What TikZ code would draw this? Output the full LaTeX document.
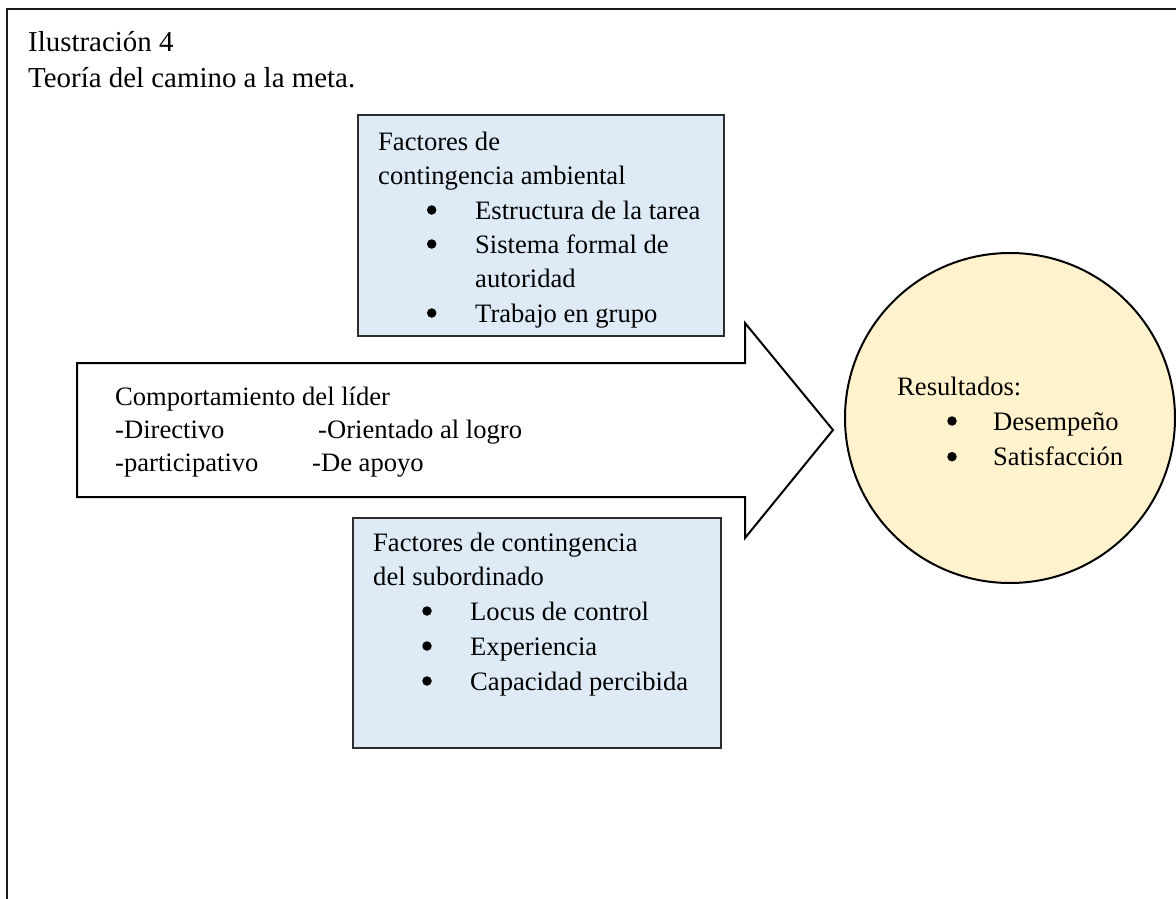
\documentclass[tikz,border=0pt]{standalone}
\usepackage{fontspec}
\setmainfont{Liberation Serif}
\definecolor{boxblue}{RGB}{222,235,247}
\definecolor{resyellow}{RGB}{255,242,204}
\definecolor{boxline}{RGB}{45,45,45}
\begin{document}
\begin{tikzpicture}[x=1pt,y=-1pt,
  txt/.style={anchor=base west,inner sep=0pt,font=\fontsize{26.6}{32}\selectfont},
  ttl/.style={anchor=base west,inner sep=0pt,font=\fontsize{28.9}{35}\selectfont},
  dot/.style={circle,fill=black,inner sep=0pt,minimum size=9.5pt},
  factorbox/.style={draw=boxline,line width=1.1pt,fill=boxblue,rectangle,inner sep=0pt},
  resultcircle/.style={draw=black,line width=2pt,fill=resyellow}]
\useasboundingbox (0,0) rectangle (1176,899);

% outer frame (open to the right and bottom)
\draw[line width=1.8pt,draw=black!90] (7,910) -- (7,9) -- (1190,9);

% caption
\node[ttl] (cap1) at (28,51.7) {Ilustración 4};
\node[ttl] (cap2) at (28,88) {Teoría del camino a la meta.};

% environmental contingency factors
\node[factorbox,minimum width=366pt,minimum height=221pt] (envbox) at (541,225.5) {};
\node[txt] (env1) at (378,150) {Factores de};
\node[txt] (env2) at (378,184) {contingencia ambiental};
\node[dot] (envb1) at (431.7,210) {};
\node[dot] (envb2) at (431.7,244) {};
\node[dot] (envb3) at (431.7,313) {};
\node[txt] (envi1) at (475,219) {Estructura de la tarea};
\node[txt] (envi2) at (475,253) {Sistema formal de};
\node[txt] (envi3) at (475,287) {autoridad};
\node[txt] (envi4) at (475,322) {Trabajo en grupo};

% leader behaviour block arrow
\coordinate (atl) at (77,363);
\coordinate (abl) at (77,497);
\coordinate (tip) at (833,430);
\draw[line width=2pt,line join=miter,fill=white]
  (atl) -- (745,363) -- (745,323) -- (tip) -- (745,538) -- (745,497) -- (abl) -- cycle;
\node[txt] (lead1) at (115,405) {Comportamiento del líder};
\node[txt] (lead2) at (115,438.3) {-Directivo};
\node[txt] (lead3) at (318,438.3) {-Orientado al logro};
\node[txt] (lead4) at (115,471.7) {-participativo};
\node[txt] (lead5) at (312,471.7) {-De apoyo};

% outcomes
\node[resultcircle,circle,minimum size=330pt,inner sep=0pt] (res) at (1010,418) {};
\node[txt] (res1) at (897,395) {Resultados:};
\node[dot] (resb1) at (952,421) {};
\node[dot] (resb2) at (952,456.7) {};
\node[txt] (resi1) at (993,430) {Desempeño};
\node[txt] (resi2) at (993,465.7) {Satisfacción};

% subordinate contingency factors
\node[factorbox,minimum width=368pt,minimum height=230pt] (subbox) at (537,633) {};
\node[txt] (sub1) at (373,551.7) {Factores de contingencia};
\node[txt] (sub2) at (373,585.7) {del subordinado};
\node[dot] (subb1) at (427,611) {};
\node[dot] (subb2) at (427,646) {};
\node[dot] (subb3) at (427,681) {};
\node[txt] (subi1) at (470,620) {Locus de control};
\node[txt] (subi2) at (470,655) {Experiencia};
\node[txt] (subi3) at (470,690) {Capacidad percibida};
\end{tikzpicture}
\end{document}
